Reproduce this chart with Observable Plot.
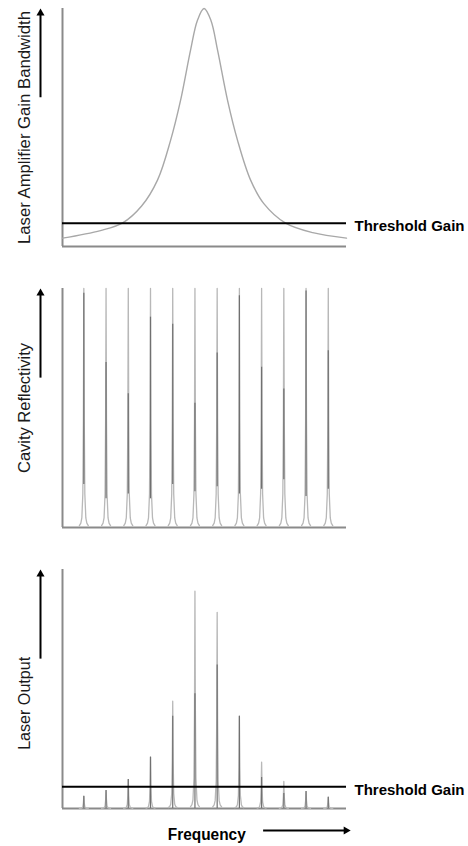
<!DOCTYPE html>
<html><head><meta charset="utf-8">
<script src="https://cdn.jsdelivr.net/npm/d3@7"></script>
<script src="https://cdn.jsdelivr.net/npm/@observablehq/plot@0.6"></script>
<style>
body{margin:0;background:#fff;}
#chart{position:relative;width:468px;height:846px;}
#chart > svg{position:absolute;left:0;}
</style></head><body><div id="chart"></div>
<script>
// ---- data ----
const modes = [1,2,3,4,5,6,7,8,9,10,11,12];
const reflectivityPeaks = [1,1,1,1,1,1,1,1,1,1,1,1];
const reflectivityDarkTop = [0.98,0.69,0.56,0.88,0.85,0.52,0.73,0.97,0.67,0.58,0.99,0.74];
const reflectivityDarkBottom = [0.18,0.12,0.14,0.12,0.18,0.15,0.17,0.14,0.16,0.2,0.13,0.16];
const outputPeaks = [0.051,0.075,0.121,0.215,0.449,0.909,0.821,0.386,0.194,0.113,0.071,0.047];
const outputDarkTop = [0.051,0.075,0.121,0.215,0.386,0.48,0.60,0.386,0.13,0.063,0.071,0.047];
const gainFreq  = [0.04,1.75,2.73,3.6,4.32,4.9,5.35,5.8,6.11,6.41,6.72,7.02,7.47,7.92,8.5,9.1,10.08,11.3,12.82];
const gainValue = [0.035,0.067,0.098,0.17,0.28,0.445,0.613,0.824,0.95,1.0,0.95,0.824,0.613,0.445,0.28,0.18,0.098,0.058,0.035];
const gainThreshold = 0.098;
const outputThreshold = 0.091;
const peakProfileOffset = [-0.2,-0.135,-0.09,-0.045,-0.02,0,0.02,0.045,0.09,0.135,0.2];
const peakProfileLevel  = [0.008,0.018,0.04,0.14,0.45,1,0.45,0.14,0.04,0.018,0.008];
const yLabels = ["Laser Amplifier Gain Bandwidth","Cavity Reflectivity","Laser Output"];
const thresholdLabel = "Threshold Gain";
const xLabel = "Frequency";

// ---- layout ----
const W = 468, ML = 62, MR = 122;
const xDomain = [0.04, 12.82];
const axisColor = "#8a8a8a", peakLight = "#b8b8b8", peakDark = "#707070";
const labelFont = "'Liberation Sans', Arial, sans-serif";
const boldFont = "'Liberation Sans', Arial, sans-serif";
const textLengths = {"Laser Amplifier Gain Bandwidth": 233, "Cavity Reflectivity": 130, "Laser Output": 93,
  "Threshold Gain": 110, "Frequency": 78};

function peakRows(heights) {
  const rows = [];
  modes.forEach((m, i) => peakProfileOffset.forEach((o, j) =>
    rows.push({x: m + o, y: heights[i] * peakProfileLevel[j], z: m})));
  return rows;
}
function axisMarks() {
  return [
    Plot.ruleX([xDomain[0]], {stroke: axisColor, strokeWidth: 2}),
    Plot.ruleY([0], {stroke: axisColor, strokeWidth: 2})
  ];
}
function yLabelMarks(label, cy) {
  return [
    Plot.text([label], {frameAnchor: "left", y: () => cy, text: d => d, rotate: -90, dx: -38,
      fontSize: 16, fontFamily: labelFont, fill: "#1a1a1a", textAnchor: "middle", lineAnchor: "middle"}),
    Plot.ruleX([xDomain[0]], {y1: 0.625, y2: 0.975, dx: -22, stroke: "#000", strokeWidth: 2}),
    Plot.dot([xDomain[0]], {x: d => d, y: () => 1, dx: -22, dy: 4.7, symbol: "triangle", r: 3, fill: "#000", stroke: "none"})
  ];
}
function thresholdMarks(t) {
  return [
    Plot.ruleY([t], {stroke: "#000", strokeWidth: 2}),
    Plot.text([thresholdLabel], {x: () => xDomain[1], y: () => t, text: d => d, dx: 8, dy: 3,
      textAnchor: "start", fontSize: 15, fontWeight: "bold", fontFamily: boldFont, fill: "#000"})
  ];
}
const common = {width: W, marginLeft: ML, marginRight: MR,
  x: {domain: xDomain, axis: null}, y: {domain: [0, 1], axis: null},
  style: {background: "transparent", overflow: "visible"}};

const p1 = Plot.plot({...common, height: 270, marginTop: 8, marginBottom: 24,
  marks: [
    ...axisMarks(),
    Plot.line(gainFreq.map((f, i) => ({x: f, y: gainValue[i]})), {x: "x", y: "y", curve: "catmull-rom", stroke: "#a8a8a8", strokeWidth: 1.4}),
    ...thresholdMarks(gainThreshold),
    ...yLabelMarks(yLabels[0], 0.5)
  ]});

const p2 = Plot.plot({...common, height: 280, marginTop: 18, marginBottom: 23,
  marks: [
    ...axisMarks(),
    Plot.line(peakRows(reflectivityPeaks), {x: "x", y: "y", z: "z", stroke: peakLight, strokeWidth: 1.3}),
    Plot.ruleX(modes, {x: d => d, y1: (d, i) => reflectivityDarkBottom[i], y2: (d, i) => reflectivityDarkTop[i], stroke: peakDark, strokeWidth: 1.2}),
    ...yLabelMarks(yLabels[1], 0.5)
  ]});

const p3 = Plot.plot({...common, height: 296, marginTop: 19, marginBottom: 38,
  marks: [
    ...axisMarks(),
    Plot.line(peakRows(outputPeaks), {x: "x", y: "y", z: "z", stroke: peakLight, strokeWidth: 1.3}),
    Plot.ruleX(modes, {x: d => d, y1: 0, y2: (d, i) => outputDarkTop[i], stroke: peakDark, strokeWidth: 1.2}),
    ...thresholdMarks(outputThreshold),
    ...yLabelMarks(yLabels[2], 0.44),
    Plot.text([xLabel], {x: () => 6.53, y: () => 0, text: d => d, dy: 26, fontSize: 16, fontWeight: "bold",
      fontFamily: boldFont, fill: "#000", lineAnchor: "middle"}),
    Plot.ruleY([0], {x1: 9.09, x2: 12.85, dy: 22, stroke: "#000", strokeWidth: 2}),
    Plot.dot([0], {x: () => 13.01, y: () => 0, dx: -4.7, dy: 22, symbol: "triangle", rotate: 90, r: 3, fill: "#000", stroke: "none"})
  ]});

const chart = document.getElementById("chart");
p1.style.top = "0px"; p2.style.top = "270px"; p3.style.top = "550px";
chart.append(p1, p2, p3);
// fit the label widths measured on the picture
for (const t of chart.querySelectorAll("text")) {
  const L = textLengths[t.textContent];
  if (L) { t.setAttribute("textLength", L); t.setAttribute("lengthAdjust", "spacingAndGlyphs"); }
}
</script></body></html>
